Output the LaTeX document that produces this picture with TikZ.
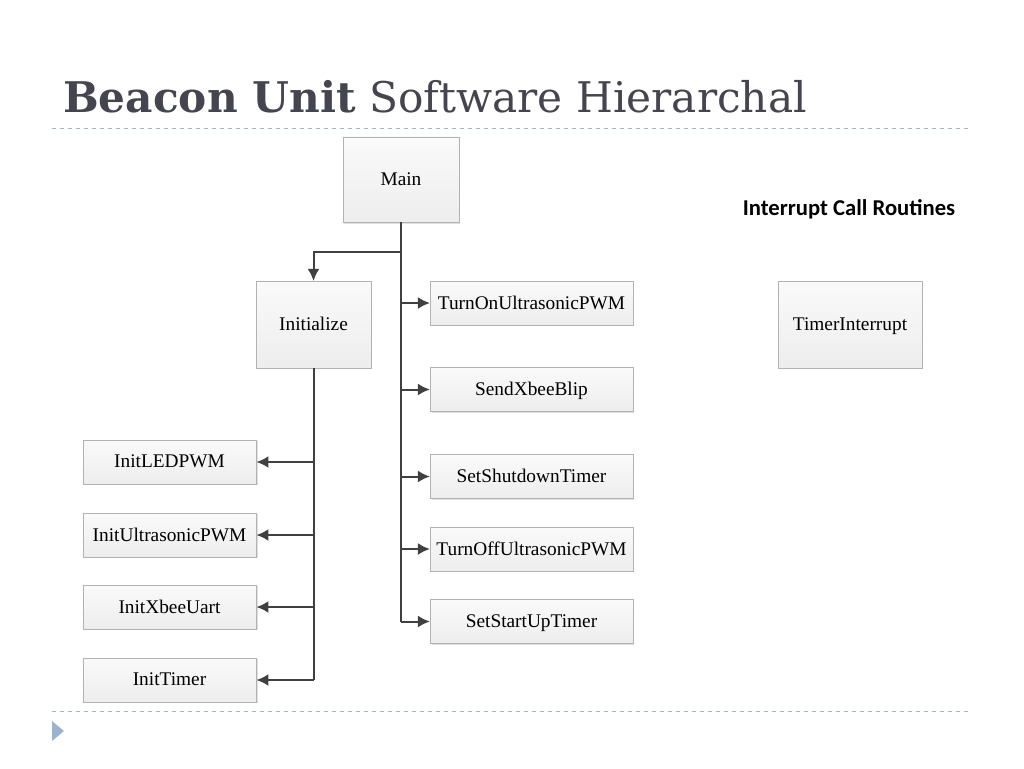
\documentclass[tikz,border=0pt]{standalone}
\usepackage{fontspec}
\setmainfont{Liberation Serif}
\newfontfamily\titlefont{DejaVu Serif}
\newfontfamily\headfont{Carlito}
\usetikzlibrary{shadows,arrows.meta}
\definecolor{titlegray}{HTML}{45454F}
\definecolor{rulegray}{HTML}{A9B8C8}
\definecolor{bulletblue}{HTML}{9CB3CF}
\definecolor{linkgray}{HTML}{404040}
\tikzstyle{routine}=[rectangle,draw=gray!60,top color=gray!4,bottom color=gray!14,drop shadow={shadow xshift=1pt,shadow yshift=-1pt,opacity=0.25},inner sep=0pt,text depth=1pt,font=\fontsize{14.5}{16}\selectfont]
\tikzstyle{call}=[routine,minimum width=152pt,minimum height=33pt]
\tikzstyle{setup}=[routine,minimum width=130pt,minimum height=33pt]
\tikzstyle{link}=[linkgray,line width=1.5pt]
\tikzstyle{tip}=[-{Latex[length=9pt,width=9pt]}]

\begin{document}
\begin{tikzpicture}[x=0.75pt,y=-0.75pt]
\useasboundingbox (0,0) rectangle (1024,768);
% title and rules
\node[anchor=base west,inner sep=0pt,text=titlegray,font=\titlefont\fontsize{31.7}{36}\selectfont] (title) at (63,112) {\textbf{Beacon Unit} Software Hierarchal};
\draw[rulegray,dashed,line width=0.75pt] (52,128) -- (972,128);
\draw[rulegray,dashed,line width=0.75pt] (52,711) -- (972,711);
\fill[bulletblue] (52,721) -- (64,731) -- (52,741) -- cycle;
\node[font=\headfont\bfseries\fontsize{17}{19}\selectfont] (irqhead) at (849,209) {Interrupt Call Routines};
% boxes
\node[routine,minimum width=87pt,minimum height=64pt] at (401,179.5) (main) {Main};
\node[routine,minimum width=86pt,minimum height=65pt] at (313.5,324.5) (init) {Initialize};
\node[call] at (531.5,303) (uson) {TurnOnUltrasonicPWM};
\node[call] at (531.5,389.5) (blip) {SendXbeeBlip};
\node[call] at (531.5,476.5) (shut) {SetShutdownTimer};
\node[call] at (531.5,549) (usoff) {TurnOffUltrasonicPWM};
\node[call] at (531.5,621.5) (start) {SetStartUpTimer};
\node[setup] at (169.5,462) (led) {InitLEDPWM};
\node[setup] at (169.5,535) (usinit) {InitUltrasonicPWM};
\node[setup] at (169.5,607) (uart) {InitXbeeUart};
\node[setup] at (169.5,680) (timer) {InitTimer};
\node[routine,minimum width=108pt,minimum height=65pt] at (850,324.5) (irq) {TimerInterrupt};
% connectors
\coordinate (split) at (401,252);
\draw[link] (main.south) -- (main.south |- start.west);
\draw[link,tip] (split) -| (init.north);
\foreach \n in {uson,blip,shut,usoff,start}
  \draw[link,tip] (main.south |- \n.west) -- (\n.west);
\draw[link] (init.south) -- (init.south |- timer.east);
\foreach \n in {led,usinit,uart,timer}
  \draw[link,tip] (init.south |- \n.east) -- (\n.east);
\end{tikzpicture}
\end{document}
